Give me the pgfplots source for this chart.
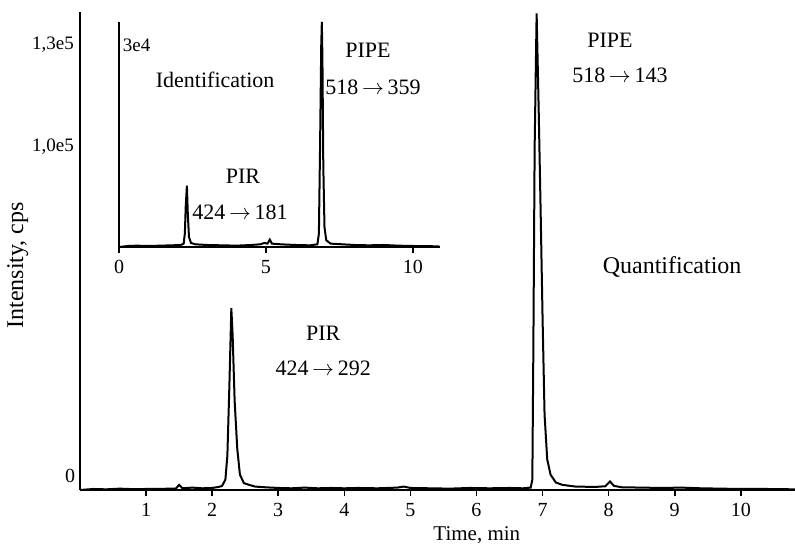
\documentclass[border=0pt]{standalone}
\usepackage{fontspec}
\setmainfont{Liberation Serif}
\usepackage{pgfplots}
\pgfplotsset{compat=1.18}
\newcommand{\arr}{\,\ensuremath{\rightarrow}\,}

\begin{document}
\begin{tikzpicture}
% main chromatogram (quantification)
\begin{axis}[
  scale only axis,
  at={(0pt,0pt)}, anchor=south west,
  width=357.5pt, height=239pt,
  xmin=0, xmax=10.82,
  ymin=0, ymax=139400,
  axis x line*=bottom, axis y line*=left,
  axis line style={-, line width=1.2pt},
  xtick={1,2,...,10},
  ytick={100000,130000},
  yticklabels={{1,0e5},{1,3e5}},
  scaled y ticks=false,
  tick align=outside,
  major tick length=3pt,
  xtick style={line width=0.8pt, black},
  ytick style={draw=none},
  ticklabel style={font=\fontsize{10}{11}\selectfont},
  yticklabel style={font=\fontsize{9.5}{11}\selectfont, xshift=3.5pt},
  /pgf/number format/assume math mode=true,
  xlabel={Time, min},
  ylabel={Intensity, cps},
  xlabel style={font=\fontsize{10.5}{12}\selectfont, at={(rel axis cs:0.555,-0.094)}, anchor=center},
  ylabel style={font=\fontsize{12}{14}\selectfont, at={(rel axis cs:-0.087,0.47)}, anchor=center},
  clip=false,
]
\addplot[black, line width=1pt] coordinates {
  (0,0) (0.2,300) (0.4,200) (0.6,400) (0.8,250) (1.0,300) (1.2,350)
  (1.45,400) (1.5,1500) (1.55,500) (1.7,700) (1.85,500) (2.0,600)
  (2.1,900) (2.15,1200) (2.2,3000) (2.23,10000) (2.26,30000)
  (2.29,53000) (2.31,45000) (2.34,26000) (2.38,12000) (2.42,4500)
  (2.48,2000) (2.56,1500) (2.65,1000) (2.8,800) (3.0,600) (3.2,500)
  (3.4,700) (3.6,500) (3.8,600) (4.0,500) (4.2,600) (4.5,500)
  (4.8,700) (4.9,1000) (5.0,600) (5.3,500) (5.6,400) (5.9,600)
  (6.2,500) (6.5,600) (6.7,500) (6.82,700) (6.845,3000) (6.86,40000)
  (6.88,100000) (6.91,139000) (6.94,112000) (6.97,82000) (7.0,50000)
  (7.03,22000) (7.07,9000) (7.12,4500) (7.2,2200) (7.3,1500)
  (7.5,1000) (7.8,900) (7.95,1100) (8.02,2500) (8.08,1200) (8.2,800)
  (8.5,700) (8.8,600) (9.1,700) (9.4,500) (9.7,400) (10.0,300)
  (10.4,300) (10.82,200)
};
\node[font=\fontsize{10}{11}\selectfont] at (axis cs:-0.15,4000) {0};
\begin{scope}[font=\fontsize{11}{13}\selectfont]
\node at (axis cs:8.02,131200) {PIPE};
\node at (axis cs:8.17,121000) {518\arr 143};
\node at (axis cs:3.68,45800) {PIR};
\node at (axis cs:3.68,35600) {424\arr 292};
\node[font=\fontsize{12}{14}\selectfont] at (axis cs:8.96,65000) {Quantification};
\end{scope}
\end{axis}

% inset chromatogram (identification)
\begin{axis}[
  scale only axis,
  at={(19.5pt,121.5pt)}, anchor=south west,
  width=160.5pt, height=112.5pt,
  xmin=0, xmax=10.92,
  ymin=0, ymax=33400,
  axis x line*=bottom, axis y line*=left,
  axis line style={-, line width=1.2pt},
  xtick={0,5,10},
  ytick=\empty,
  tick align=outside,
  major tick length=3pt,
  xtick style={line width=0.8pt, black},
  ticklabel style={font=\fontsize{10}{11}\selectfont},
  /pgf/number format/assume math mode=true,
  clip=false,
]
\addplot[black, line width=1pt] coordinates {
  (0,0) (0.3,150) (0.6,200) (1.0,150) (1.4,200) (1.8,250) (2.1,300)
  (2.2,500) (2.24,2000) (2.27,6000) (2.31,9100) (2.34,5000)
  (2.38,1500) (2.45,600) (2.6,400) (3.0,300) (3.5,250) (4.0,200)
  (4.5,300) (4.8,400) (4.95,600) (5.05,500) (5.13,1100) (5.2,500)
  (5.5,400) (6.0,300) (6.5,250) (6.75,400) (6.8,2000) (6.84,15000)
  (6.88,30000) (6.9,33400) (6.92,28000) (6.95,12000) (6.99,3000)
  (7.05,1000) (7.2,500) (7.6,400) (8.0,300) (8.5,250) (9.0,300)
  (9.5,200) (10.0,150) (10.9,100)
};
\begin{scope}[font=\fontsize{11}{13}\selectfont]
\node[font=\fontsize{9.5}{10}\selectfont] at (axis cs:0.6,30000) {3e4};
\node at (axis cs:3.27,24800) {Identification};
\node at (axis cs:8.47,29250) {PIPE};
\node at (axis cs:8.64,23760) {518\arr 359};
\node at (axis cs:4.22,10540) {PIR};
\node at (axis cs:4.12,5200) {424\arr 181};
\end{scope}
\end{axis}
\pgfresetboundingbox
\path[use as bounding box] (-40pt,-29pt) rectangle (357.5pt,245pt);
\end{tikzpicture}
\end{document}
